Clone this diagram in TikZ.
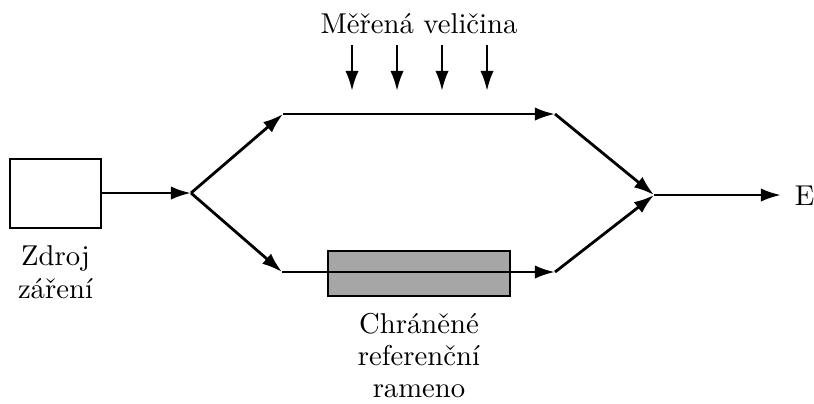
\documentclass[tikz,border=0pt]{standalone}
\usetikzlibrary{arrows.meta}
\begin{document}
\begin{tikzpicture}[x=0.0125cm,y=-0.0125cm,
  conn/.style={line width=1pt,-{Latex[length=7.2pt,width=4.8pt]}},
  srcbox/.style={draw,line width=1pt,minimum width=1.1375cm,minimum height=0.8625cm,inner sep=0pt},
  refbox/.style={draw,line width=1pt,fill={rgb,255:red,166;green,166;blue,166},minimum width=2.275cm,minimum height=0.5625cm,inner sep=0pt},
  lbl/.style={inner sep=0pt,anchor=base,font=\fontsize{10.2}{12}\selectfont}]
\useasboundingbox (0,0) rectangle (814,403);
\node[srcbox] (src) at (55.5,193.5) {};
\coordinate (split) at (191,193);
\coordinate (up1) at (283,114);
\coordinate (up2) at (555,114);
\coordinate (lo1) at (282,272);
\coordinate (lo2) at (555,272);
\coordinate (merge) at (654,195);
\coordinate (out) at (781,195);
\node[refbox] (ref) at (419,273.5) {};
\draw[conn] (src.east |- split) -- (split);
\draw[conn] (split) -- (up1);
\draw[conn] (up1) -- (up2);
\draw[conn] (up2) -- (merge);
\draw[conn] (split) -- (lo1);
\draw[conn] (lo1) -- (lo2);
\draw[conn] (lo2) -- (merge);
\draw[conn] (merge) -- (out);
\node[inner sep=0pt,font=\fontsize{10.2}{12}\selectfont] (E) at (804.5,196) {E};
\foreach \i/\x in {1/352,2/397,3/442,4/487}{
  \coordinate (a\i) at (\x,45);
  \coordinate (b\i) at (\x,91);
  \draw[conn] (a\i) -- (b\i);
}
\node[lbl] (meas) at (419,33) {Měřená veličina};
\node[lbl] (z1) at (55.5,265) {Zdroj};
\node[lbl] (z2) at (55.5,298) {záření};
\node[lbl] (c1) at (419,333) {Chráněné};
\node[lbl] (c2) at (419,365) {referenční};
\node[lbl] (c3) at (419,397) {rameno};
\end{tikzpicture}
\end{document}
